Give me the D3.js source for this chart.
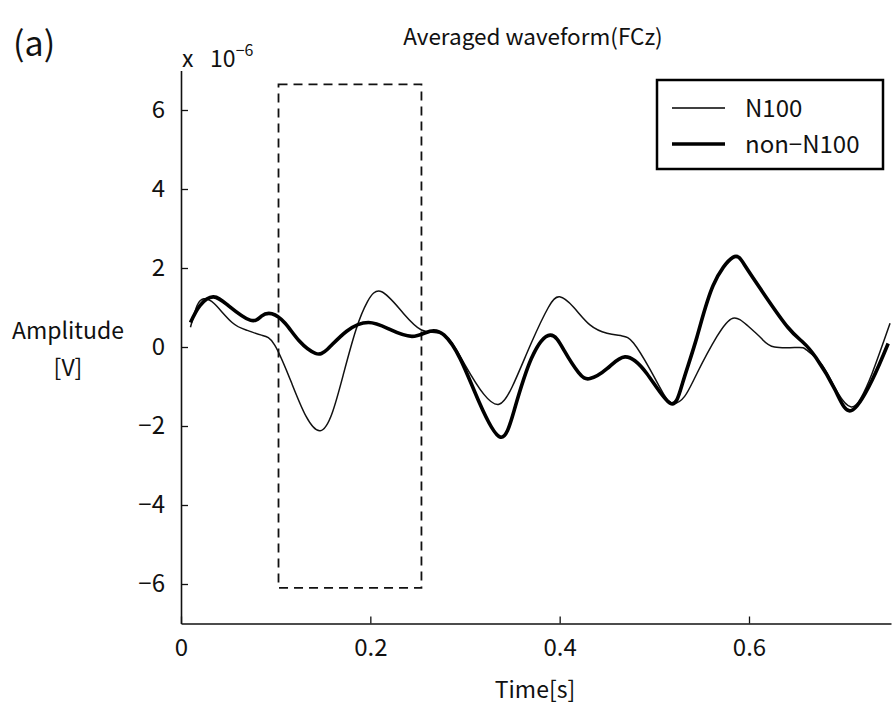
<!DOCTYPE html>
<html lang="en">
<head>
  <meta charset="UTF-8">
  <title>Averaged waveform(FCz)</title>
  <style>
    body { margin: 0; background: #fff; }
    svg { display: block; }
    text { font-family: "Noto Sans CJK JP", "Noto Sans", sans-serif; fill: #111; }
  </style>
</head>
<body>
  <svg></svg>
  <script src="https://d3js.org/d3.v7.min.js"></script>
  <script>
    // values (amplitude in units of 1e-6 V)
    var n100Time = [0.010, 0.017, 0.024, 0.035, 0.054, 0.070, 0.085, 0.099, 0.117, 0.132,
                    0.147, 0.160, 0.172, 0.185, 0.197, 0.212, 0.235, 0.254, 0.268, 0.283,
                    0.300, 0.320, 0.336, 0.350, 0.370, 0.388, 0.400, 0.415, 0.432, 0.450,
                    0.466, 0.478, 0.495, 0.510, 0.520, 0.532, 0.545, 0.566, 0.583, 0.598,
                    0.613, 0.627, 0.652, 0.661, 0.677, 0.694, 0.708, 0.718, 0.730, 0.749];
    var n100Amp = [0.50, 1.05, 1.22, 1.10, 0.62, 0.42, 0.30, 0.05, -0.92, -1.75,
                   -2.12, -1.65, -0.65, 0.45, 1.15, 1.40, 0.85, 0.43, 0.37, 0.20,
                   -0.45, -1.20, -1.45, -1.00, 0.10, 1.00, 1.27, 1.00, 0.56, 0.35,
                   0.28, 0.10, -0.55, -1.20, -1.43, -1.25, -0.67, 0.26, 0.73, 0.55,
                   0.22, 0.00, -0.01, -0.08, -0.45, -1.17, -1.52, -1.30, -0.67, 0.60];

    var nonTime = [0.010, 0.020, 0.034, 0.050, 0.073, 0.085, 0.096, 0.110, 0.125, 0.142,
                   0.155, 0.175, 0.198, 0.220, 0.244, 0.263, 0.278, 0.295, 0.315, 0.337,
                   0.352, 0.370, 0.390, 0.405, 0.420, 0.432, 0.450, 0.469, 0.492, 0.517,
                   0.530, 0.545, 0.562, 0.583, 0.596, 0.617, 0.641, 0.657, 0.671, 0.691,
                   0.708, 0.730, 0.747];
    var nonAmp = [0.62, 1.05, 1.27, 1.05, 0.68, 0.78, 0.84, 0.60, 0.15, -0.16,
                  -0.05, 0.40, 0.62, 0.45, 0.27, 0.40, 0.30, -0.30, -1.40, -2.28,
                  -1.60, -0.30, 0.30, -0.10, -0.65, -0.80, -0.55, -0.25, -0.67, -1.43,
                  -0.90, 0.25, 1.55, 2.27, 2.05, 1.30, 0.50, 0.12, -0.28, -1.09,
                  -1.61, -0.84, 0.09];

    var xTicks = [0, 0.2, 0.4, 0.6];
    var yTicks = [-6, -4, -2, 0, 2, 4, 6];
    var windowBox = [0.103, 0.254, -6.1, 6.65]; // t0, t1, vmin, vmax

    var width = 893, height = 707;
    var svg = d3.select("svg").attr("width", width).attr("height", height);

    var x = d3.scaleLinear().domain([0, 0.75]).range([181, 891]);
    var y = d3.scaleLinear().domain([-7, 7]).range([623.5, 70.5]);

    // axes, ticks pointing inward
    var xAxis = svg.append("g")
        .attr("transform", "translate(0," + y(-7) + ")")
        .call(d3.axisBottom(x).tickValues(xTicks).tickSizeInner(-7).tickSizeOuter(0)
              .tickPadding(12).tickFormat(d => d === 0 ? "0" : d3.format(".1f")(d)));
    var yAxis = svg.append("g")
        .attr("transform", "translate(" + x(0) + ",0)")
        .call(d3.axisLeft(y).tickValues(yTicks).tickSizeInner(-7).tickSizeOuter(0)
              .tickPadding(16).tickFormat(d => d < 0 ? "\u2212" + Math.abs(d) : d));
    svg.selectAll(".domain").attr("stroke", "#111").attr("stroke-width", 1.6);
    svg.selectAll(".tick line").attr("stroke", "#111").attr("stroke-width", 1.3);
    svg.selectAll(".tick text").style("font-size", "24px").attr("fill", "#111");
    xAxis.selectAll(".tick text").attr("dy", "0.85em");

    // dashed analysis window
    svg.append("rect")
        .attr("x", x(windowBox[0]))
        .attr("y", y(windowBox[3]))
        .attr("width", x(windowBox[1]) - x(windowBox[0]))
        .attr("height", y(windowBox[2]) - y(windowBox[3]))
        .attr("fill", "none")
        .attr("stroke", "#111")
        .attr("stroke-width", 1.8)
        .attr("stroke-dasharray", "9,6");

    var line = d3.line()
        .x(d => x(d[0]))
        .y(d => y(d[1]))
        .curve(d3.curveNatural);

    svg.append("path")
        .datum(n100Time.map((t, i) => [t, n100Amp[i]]))
        .attr("d", line)
        .attr("fill", "none")
        .attr("stroke", "#111")
        .attr("stroke-width", 1.5);

    svg.append("path")
        .datum(nonTime.map((t, i) => [t, nonAmp[i]]))
        .attr("d", line)
        .attr("fill", "none")
        .attr("stroke", "#000")
        .attr("stroke-width", 3.6)
        .attr("stroke-linejoin", "round");

    // texts
    svg.append("text").attr("x", 13).attr("y", 56)
        .style("font-size", "34px").text("(a)");
    svg.append("text").attr("x", 533).attr("y", 45).attr("text-anchor", "middle")
        .style("font-size", "22.5px").text("Averaged waveform(FCz)");
    var mult = svg.append("text").attr("x", 182).attr("y", 67).style("font-size", "23px");
    mult.append("tspan").text("x\u2002 10");
    mult.append("tspan").attr("dy", -11).style("font-size", "16px").text("\u22126");
    svg.append("text").attr("x", 68).attr("y", 339).attr("text-anchor", "middle")
        .style("font-size", "23px").text("Amplitude");
    svg.append("text").attr("x", 68).attr("y", 376).attr("text-anchor", "middle")
        .style("font-size", "23px").text("[V]");
    svg.append("text").attr("x", 535).attr("y", 698).attr("text-anchor", "middle")
        .style("font-size", "23px").text("Time[s]");

    // legend
    var legend = svg.append("g");
    legend.append("rect")
        .attr("x", 657).attr("y", 80).attr("width", 226).attr("height", 89)
        .attr("fill", "#fff").attr("stroke", "#000").attr("stroke-width", 2.5);
    var items = [["N100", 1.5, 108], ["non\u2212N100", 3.6, 144]];
    items.forEach(function(it) {
      legend.append("line")
          .attr("x1", 672).attr("x2", 725).attr("y1", it[2]).attr("y2", it[2])
          .attr("stroke", "#000").attr("stroke-width", it[1]);
      legend.append("text").attr("x", 745).attr("y", it[2]).attr("dy", "0.36em")
          .style("font-size", "24px").text(it[0]);
    });
  </script>
</body>
</html>
